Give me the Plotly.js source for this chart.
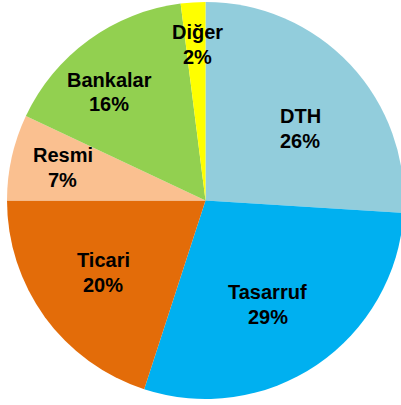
<!DOCTYPE html>
<html>
<head>
<meta charset="utf-8">
<script src="https://cdn.plot.ly/plotly-3.0.1.min.js"></script>
<style>html,body{margin:0;padding:0;background:#fff;overflow:hidden;}#wrap{width:401px;height:405px;overflow:hidden;}#chart{width:406px;height:405px;}</style>
</head>
<body>
<div id="wrap"><div id="chart"></div></div>
<script>
const categories = ["DTH", "Tasarruf", "Ticari", "Resmi", "Bankalar", "Diğer"];
const shares = [26, 29, 20, 7, 16, 2];
const sliceColors = ["#92CDDC", "#00B0F0", "#E36C09", "#FAC090", "#92D050", "#FFFF00"];

// label centre x and first-line baseline in pixels (from left / from top)
const labelPos = [[300, 123], [267.5, 299], [103, 267], [62.5, 162], [109.5, 87], [197, 39]];

const W = 406, H = 405;
const LINE = 24.5, FS = 20;
const total = shares.reduce((a, b) => a + b, 0);

const font = {family: "Liberation Sans, Arial, sans-serif", size: FS, color: "#000"};
const annotations = [];
categories.forEach((c, i) => {
  const lines = [c, Math.round(shares[i] / total * 100) + "%"];
  lines.forEach((t, k) => {
    const yMid = labelPos[i][1] + k * LINE - 7;
    annotations.push({
      xref: "paper", yref: "paper",
      x: labelPos[i][0] / W, y: 1 - yMid / H,
      xanchor: "center", yanchor: "middle",
      showarrow: false,
      text: "<b>" + t + "</b>",
      font: font
    });
  });
});

Plotly.newPlot("chart", [{
  type: "pie",
  labels: categories,
  values: shares,
  sort: false,
  direction: "clockwise",
  rotation: 0,
  marker: {colors: sliceColors, line: {width: 0}},
  textinfo: "none",
  hoverinfo: "none",
  domain: {x: [7 / W, 404 / W], y: [(H - 399) / H, (H - 2) / H]}
}], {
  width: W, height: H,
  margin: {l: 0, r: 0, t: 0, b: 0},
  showlegend: false,
  paper_bgcolor: "#fff",
  annotations: annotations
}, {displayModeBar: false, staticPlot: true});
</script>
</body>
</html>
